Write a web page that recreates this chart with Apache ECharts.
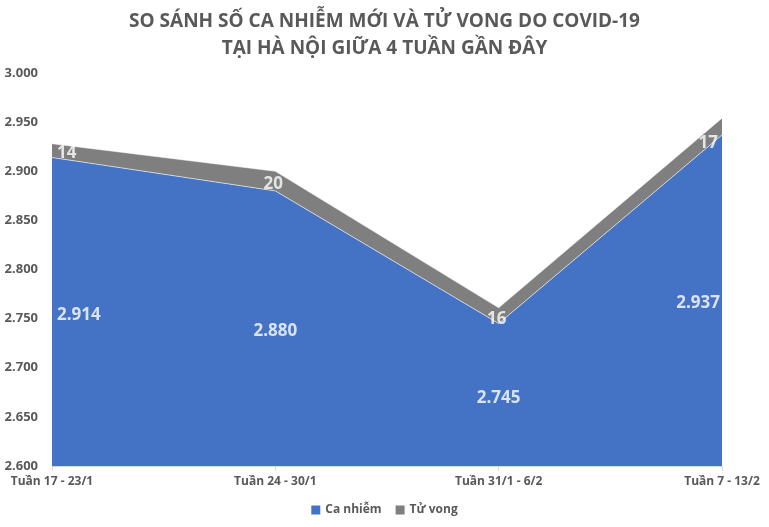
<!DOCTYPE html>
<html><head><meta charset="utf-8">
<script src="https://cdn.jsdelivr.net/npm/echarts@6/dist/echarts.min.js"></script>
<style>html,body{margin:0;padding:0;background:#fff}#c{width:769px;height:527px}</style>
</head><body><div id="c"></div>
<script>
const categories = ['Tuần 17 - 23/1', 'Tuần 24 - 30/1', 'Tuần 31/1 - 6/2', 'Tuần 7 - 13/2'];
const caNhiem = [2914, 2880, 2745, 2937];
const tuVong = [14, 20, 16, 17];
const yMin = 2600, yMax = 3000, yStep = 50;
const titleLines = ['SO SÁNH SỐ CA NHIỄM MỚI VÀ TỬ VONG DO COVID-19', 'TẠI HÀ NỘI GIỮA 4 TUẦN GẦN ĐÂY'];

const FONT = 'Open Sans';
const fmt = v => String(v).replace(/\B(?=(\d{3})+(?!\d))/g, '.');
const n = categories.length;
function lblAlign(i){ return i === 0 ? 'left' : (i === n-1 ? 'right' : 'center'); }

const caLabelData = caNhiem.map((v, i) => ({
  value: [i, (yMin + v) / 2], raw: v,
  label: { align: lblAlign(i), offset: [i === 0 ? 5 : (i === n-1 ? -2 : 0), 3] }
}));
const tvLabelData = tuVong.map((v, i) => ({
  value: [i, caNhiem[i] + v / 2], raw: v,
  label: { align: lblAlign(i), offset: [i === 0 ? 5 : (i === n-1 ? -4 : -2), i === n-1 ? 17 : 3] }
}));

const labelStyle = { show: true, position: 'inside', fontFamily: FONT, fontSize: 17, fontWeight: 'bold', color: '#fff',
  formatter: p => fmt(p.data.raw) };

const chart = echarts.init(document.getElementById('c'));
chart.setOption({
  animation: false,
  title: {
    text: titleLines.join('\n'), left: 'center', top: 3,
    textStyle: { fontFamily: FONT, fontWeight: 'bold', fontSize: 19, color: '#595959', lineHeight: 27 }
  },
  legend: {
    bottom: 6, left: 'center', itemWidth: 9, itemHeight: 9, itemGap: 14,
    icon: 'rect',
    data: ['Ca nhiễm', 'Tử vong'],
    textStyle: { fontFamily: FONT, fontSize: 12, fontWeight: 'bold', color: '#595959' }
  },
  grid: { left: 52, right: 47, top: 73, bottom: 61 },
  xAxis: [{
    type: 'category', data: categories, boundaryGap: false,
    axisLine: { lineStyle: { color: '#d9d9d9' } },
    axisTick: { show: true, length: 5, lineStyle: { color: '#d9d9d9' } },
    axisLabel: { fontFamily: FONT, fontSize: 12, fontWeight: 'bold', color: '#595959', margin: 10 }
  }, {
    type: 'value', min: 0, max: n - 1, show: false
  }],
  yAxis: {
    type: 'value', min: yMin, max: yMax, interval: yStep,
    axisLine: { show: false }, axisTick: { show: false }, splitLine: { show: false },
    axisLabel: { fontFamily: FONT, fontSize: 13, fontWeight: 'bold', color: '#595959', margin: 14, formatter: fmt }
  },
  series: [
    {
      name: 'Ca nhiễm', type: 'line', stack: 't', data: caNhiem, symbol: 'none',
      itemStyle: { color: '#4472C4' },
      lineStyle: { color: 'rgba(255,255,255,0.6)', width: 1 },
      areaStyle: { color: '#4472C4', opacity: 1 }
    },
    {
      name: 'Tử vong', type: 'line', stack: 't', data: tuVong, symbol: 'none',
      itemStyle: { color: '#7F7F7F' },
      lineStyle: { color: 'rgba(255,255,255,0.5)', width: 1 },
      areaStyle: { color: '#7F7F7F', opacity: 1 }
    },
    {
      type: 'scatter', xAxisIndex: 1, data: caLabelData, symbolSize: 1, silent: true, z: 5,
      itemStyle: { color: 'rgba(0,0,0,0)' },
      label: labelStyle
    },
    {
      type: 'scatter', xAxisIndex: 1, data: tvLabelData, symbolSize: 1, silent: true, z: 5,
      itemStyle: { color: 'rgba(0,0,0,0)' },
      label: labelStyle
    }
  ]
});
</script></body></html>
